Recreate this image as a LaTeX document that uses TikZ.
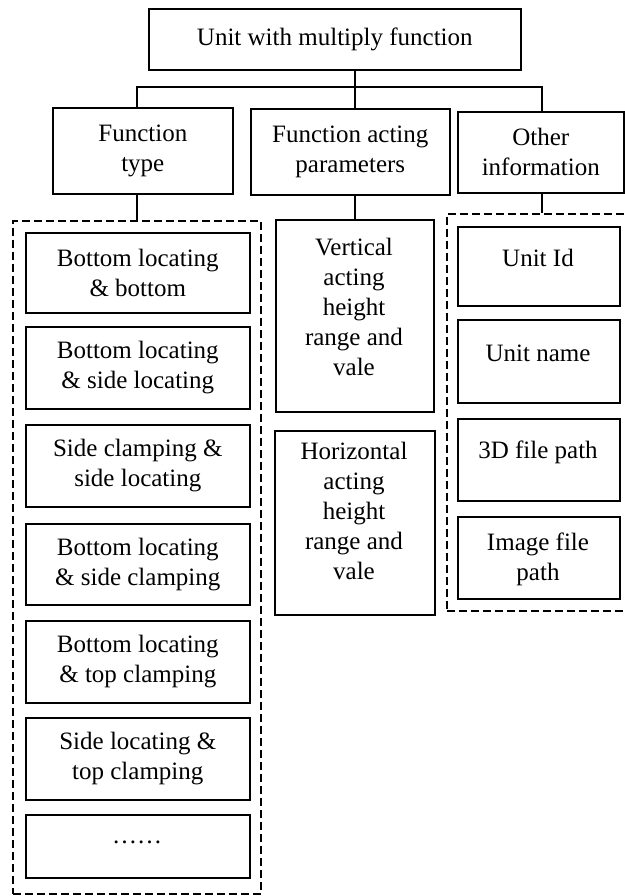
\documentclass[tikz,border=0pt]{standalone}
\usepackage{fontspec}
\setmainfont{Liberation Serif}
\begin{document}
\begin{tikzpicture}[x=1pt,y=-1pt,
  box/.style={draw, line width=1.6pt, inner sep=0pt, anchor=north west,
    align=center, font=\fontsize{25}{30}\selectfont},
  grp/.style={draw, dash pattern=on 8pt off 4pt, line width=1.5pt,
    inner sep=0pt, anchor=north west},
  txt/.style={align=center, inner sep=0pt, font=\fontsize{25}{30}\selectfont},
  link/.style={line width=1.6pt}]
\useasboundingbox (0,0) rectangle (624,896);

% top level
\node[box, minimum width=372pt, minimum height=61pt] (root) at (148,8)
  {Unit with multiply function};

% second level
\node[box, minimum width=180pt, minimum height=86pt] (ftype) at (52,107)
  {Function\\type};
\node[box, minimum width=199pt, minimum height=86pt] (fpar) at (250,108)
  {Function acting\\parameters};
\node[box, minimum width=166pt, minimum height=81pt] (oinfo) at (457,111)
  {Other\\information};

% tree connectors
\coordinate (bar) at (0,87);
\coordinate (cl) at (137,0);
\coordinate (cm) at (355,0);
\coordinate (cr) at (542,0);
\draw[link] (root.south -| cm) -- (bar -| cm);
\draw[link] (ftype.north -| cl) -- (bar -| cl) -- (bar -| cr) -- (oinfo.north -| cr);
\draw[link] (bar -| cm) -- (fpar.north -| cm);

% groups
\node[grp, minimum width=248pt, minimum height=673pt] (gleft) at (12,220) {};
\node[grp, minimum width=190pt, minimum height=397pt] (gright) at (446,213) {};

% function types
\node[box, minimum width=224pt, minimum height=80pt] (t1) at (25,232)
  {Bottom locating\\\& bottom};
\node[box, minimum width=224pt, minimum height=82pt] (t2) at (25,326)
  {Bottom locating\\\& side locating};
\node[box, minimum width=224pt, minimum height=82pt] (t3) at (25,424)
  {Side clamping \&\\side locating};
\node[box, minimum width=224pt, minimum height=81pt] (t4) at (25,523)
  {Bottom locating\\\& side clamping};
\node[box, minimum width=224pt, minimum height=82pt] (t5) at (25,620)
  {Bottom locating\\\& top clamping};
\node[box, minimum width=224pt, minimum height=82pt] (t6) at (25,717)
  {Side locating \&\\top clamping};
\node[box, minimum width=224pt, minimum height=63pt] (t7) at (25,814) {};
\node[txt, anchor=base] (t7dots) at (137,843) {……};

% acting parameters
\node[box, minimum width=158pt, minimum height=192pt] (vert) at (275,219) {};
\node[txt] (verttext) at (354,307) {Vertical\\acting\\height\\range and\\vale};
\node[box, minimum width=160pt, minimum height=184pt] (horz) at (274,430) {};
\node[txt] (horztext) at (354,511) {Horizontal\\acting\\height\\range and\\vale};

% other information
\node[box, minimum width=162pt, minimum height=79pt] (uid) at (457,226) {};
\node[txt] (uidtext) at (538,258) {Unit Id};
\node[box, minimum width=162pt, minimum height=83pt] (uname) at (457,319) {};
\node[txt] (unametext) at (538,353) {Unit name};
\node[box, minimum width=162pt, minimum height=82pt] (fpath) at (457,418) {};
\node[txt] (fpathtext) at (538,452) {3D file path};
\node[box, minimum width=162pt, minimum height=82pt] (ipath) at (457,516) {};
\node[txt] (ipathtext) at (538,559) {Image file\\path};

% links into the columns
\draw[link] (ftype.south -| cl) -- (gleft.north -| cl);
\draw[link] (fpar.south -| cm) -- (vert.north -| cm);
\draw[link] (oinfo.south -| cr) -- (gright.north -| cr);
\end{tikzpicture}
\end{document}
